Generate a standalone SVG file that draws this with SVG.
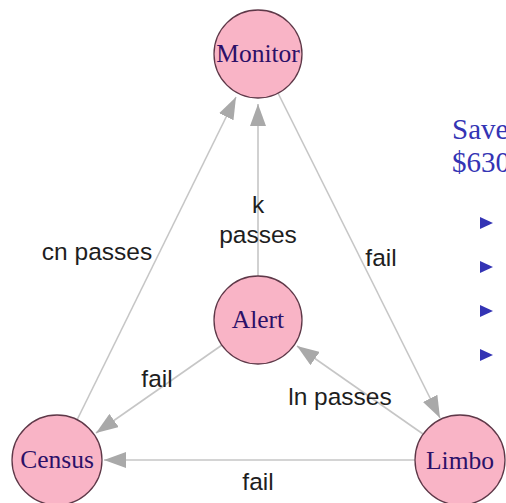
<svg xmlns="http://www.w3.org/2000/svg" width="506" height="503" viewBox="0 0 506 503">
  <style>
    .edge { stroke: #c6c6c6; stroke-width: 1.6; fill: none; marker-end: url(#arrow); }
    .elabel { font-family: "Liberation Sans", Arial, sans-serif; font-size: 24.5px; fill: #1e1e1e; text-anchor: middle; }
    .node circle { fill: #f9b4c6; stroke: #5e3848; stroke-width: 1.3; }
    .node text { font-family: "Liberation Serif", "Times New Roman", serif; font-size: 25.5px; fill: #2c1068; text-anchor: middle; }
    .slide { font-family: "Liberation Serif", "Times New Roman", serif; font-size: 29px; fill: #3434b4; }
    .bullet { fill: #3434b4; }
  </style>
  <defs>
    <marker id="arrow" markerUnits="userSpaceOnUse" markerWidth="22" markerHeight="16" refX="22" refY="8" orient="auto">
      <path d="M0,0 L22,8 L0,16 z" fill="#a9a9a9"/>
    </marker>
  </defs>

  <rect width="506" height="503" fill="#ffffff"/>

  <!-- connectors -->
  <g id="edges">
    <line class="edge" x1="77" y1="420" x2="236" y2="97"/>
    <line class="edge" x1="258" y1="276" x2="258" y2="104"/>
    <line class="edge" x1="278" y1="93" x2="440" y2="418"/>
    <line class="edge" x1="222" y1="345" x2="96" y2="433"/>
    <line class="edge" x1="423" y1="434" x2="297" y2="346"/>
    <line class="edge" x1="415" y1="460" x2="104" y2="460"/>
  </g>

  <!-- connector labels -->
  <g id="edge-labels">
    <text class="elabel" x="97" y="260">cn passes</text>
    <text class="elabel" x="258" y="213">k</text>
    <text class="elabel" x="258" y="243">passes</text>
    <text class="elabel" x="381" y="266">fail</text>
    <text class="elabel" x="157" y="387">fail</text>
    <text class="elabel" x="340" y="405">ln passes</text>
    <text class="elabel" x="258" y="490">fail</text>
  </g>

  <!-- nodes -->
  <g id="monitor" class="node">
    <circle cx="258" cy="54" r="44"/>
    <text x="258" y="62">Monitor</text>
  </g>
  <g id="alert" class="node">
    <circle cx="258" cy="320" r="44"/>
    <text x="258" y="328">Alert</text>
  </g>
  <g id="census" class="node">
    <circle cx="57" cy="460" r="45"/>
    <text x="57" y="468">Census</text>
  </g>
  <g id="limbo" class="node">
    <circle cx="460" cy="460" r="45"/>
    <text x="460" y="469">Limbo</text>
  </g>

  <!-- slide text at right edge -->
  <g id="slide-text">
    <text class="slide" x="452" y="139">Save</text>
    <text class="slide" x="452" y="172">$630</text>
    <path class="bullet" d="M480,217 L493,223 L480,229 z"/>
    <path class="bullet" d="M480,261 L493,267 L480,273 z"/>
    <path class="bullet" d="M480,305 L493,311 L480,317 z"/>
    <path class="bullet" d="M480,349 L493,355 L480,361 z"/>
  </g>
</svg>
